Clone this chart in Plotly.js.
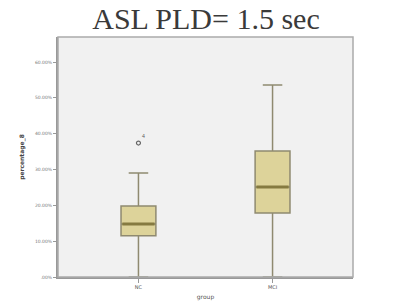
<!DOCTYPE html>
<html><head><meta charset="utf-8">
<script src="https://cdn.plot.ly/plotly-3.0.1.min.js"></script>
<style>html,body{margin:0;padding:0;background:#fff}#c{width:400px;height:308px}</style>
</head><body><div id="c"></div>
<script>
const groups = ["NC", "MCI"];
const q1 = [11.5, 17.9];
const medians = [14.8, 25.1];
const q3 = [19.8, 35.2];
const lowerWhisker = [0.0, 0.0];
const upperWhisker = [29.0, 53.6];
const outlierGroup = ["NC"];
const outlierValues = [37.4];
const outlierLabels = ["4"];
const yTickValues = [0, 10, 20, 30, 40, 50, 60];
const yTickLabels = [".00%", "10.00%", "20.00%", "30.00%", "40.00%", "50.00%", "60.00%"];

const boxTrace = {
  type: "box", x: groups, q1: q1, median: medians, q3: q3,
  lowerfence: lowerWhisker, upperfence: upperWhisker,
  fillcolor: "#ddd39a", line: {color: "#8f8a70", width: 1.5},
  width: 0.26, whiskerwidth: 0.56, boxpoints: false, hoverinfo: "none"
};
const medianTrace = {
  type: "box", x: groups, q1: medians, median: medians, q3: medians,
  lowerfence: medians, upperfence: medians,
  fillcolor: "rgba(0,0,0,0)", line: {color: "#857a40", width: 3},
  width: 0.24, whiskerwidth: 0, boxpoints: false, hoverinfo: "none"
};
const outTrace = {
  type: "scatter", mode: "markers+text", x: outlierGroup, y: outlierValues,
  text: outlierLabels, textposition: "top right",
  textfont: {size: 5, color: "#555555"},
  marker: {symbol: "circle-open", size: 4, color: "#666", line: {width: 1.2}},
  hoverinfo: "none"
};

Plotly.newPlot("c", [boxTrace, medianTrace, outTrace], {
  width: 400, height: 308,
  margin: {l: 58, r: 47, t: 37, b: 31},
  paper_bgcolor: "#ffffff", plot_bgcolor: "#f1f1f1",
  showlegend: false,
  title: {text: "ASL PLD= 1.5 sec", x: 0.515, xanchor: "center", y: 0.975, yanchor: "top",
    font: {family: "Liberation Serif, Times New Roman, serif", size: 30, color: "#3a3a3a"}},
  xaxis: {type: "category", range: [-0.6, 1.6], showgrid: false, zeroline: false,
    showline: true, linecolor: "#999", linewidth: 2, mirror: false,
    ticks: "outside", ticklen: 4, tickcolor: "#999",
    tickfont: {family: "DejaVu Sans", size: 5, color: "#555"},
    title: {text: "group", font: {family: "DejaVu Sans", size: 6, color: "#555"}, standoff: 6}},
  yaxis: {range: [0, 67], showgrid: false, zeroline: false,
    showline: true, linecolor: "#999", linewidth: 2,
    ticks: "outside", ticklen: 3, tickcolor: "#999",
    tickvals: yTickValues, ticktext: yTickLabels,
    tickfont: {family: "DejaVu Sans", size: 4.5, color: "#777"},
    title: {text: "<b>percentage_8</b>", font: {family: "DejaVu Sans", size: 6, color: "#444"}, standoff: 10}},
  shapes: [{type: "rect", xref: "paper", yref: "paper", x0: 0, x1: 1, y0: 0, y1: 1,
    line: {color: "#aaa", width: 1.5}}]
}, {staticPlot: true});
</script></body></html>
